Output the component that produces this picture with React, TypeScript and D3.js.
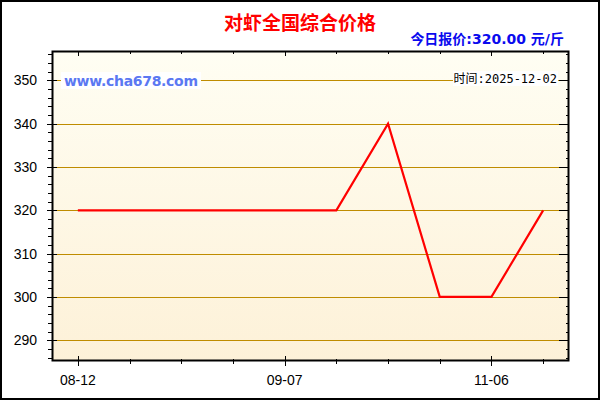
import React, { useEffect, useRef } from 'react';
import * as d3 from 'd3';

// Data
const dates = ['08-12', '08-19', '08-26', '09-01', '09-07', '09-15', '09-24', '10-16', '11-06', '12-02'];
const prices = [320, 320, 320, 320, 320, 320, 340, 300, 300, 320];
const yTicks = [290, 300, 310, 320, 330, 340, 350];
const xLabels = ['08-12', '09-07', '11-06'];

const title = '对虾全国综合价格';
const todayPrice = '今日报价:320.00 元/斤';
const siteLabel = 'www.cha678.com';
const timeLabel = '时间:2025-12-02';

const App = () => {
  const ref = useRef<SVGSVGElement | null>(null);

  useEffect(() => {
    const width = 600;
    const height = 400;
    const plot = { left: 52, right: 569, top: 51, bottom: 361 };

    const svg = d3.select(ref.current);
    svg.selectAll('*').remove();

    // Background gradient
    const defs = svg.append('defs');
    const grad = defs.append('linearGradient')
      .attr('id', 'bg')
      .attr('x1', 0).attr('y1', 0).attr('x2', 0).attr('y2', 1);
    grad.append('stop').attr('offset', '0%').attr('stop-color', '#fffef3');
    grad.append('stop').attr('offset', '100%').attr('stop-color', '#fdf1d8');

    svg.append('rect')
      .attr('width', width).attr('height', height)
      .attr('fill', '#fff');

    // Outer frame
    svg.append('rect')
      .attr('x', 1).attr('y', 1)
      .attr('width', width - 2).attr('height', height - 2)
      .attr('fill', 'none')
      .attr('stroke', '#000')
      .attr('stroke-width', 2);

    // Scales
    const x = d3.scalePoint<string>()
      .domain(dates)
      .range([plot.left, plot.right])
      .padding(0.5);

    const y = d3.scaleLinear()
      .domain([285.2, 356.8])
      .range([plot.bottom, plot.top]);

    // Plot area
    svg.append('rect')
      .attr('x', plot.left).attr('y', plot.top)
      .attr('width', plot.right - plot.left)
      .attr('height', plot.bottom - plot.top)
      .attr('fill', 'url(#bg)');

    // Gridlines
    svg.append('g')
      .selectAll('line')
      .data(yTicks)
      .enter()
      .append('line')
      .attr('x1', plot.left).attr('x2', plot.right)
      .attr('y1', d => Math.round(y(d)) + 0.5)
      .attr('y2', d => Math.round(y(d)) + 0.5)
      .attr('stroke', '#bf8c00')
      .attr('stroke-width', 1);

    // Minor y ticks every 2 units
    const minorY = d3.range(286, 357, 2).filter(v => !yTicks.includes(v));
    const axisG = svg.append('g').attr('stroke', '#000').attr('stroke-width', 1);

    minorY.forEach(v => {
      const yy = Math.round(y(v)) + 0.5;
      axisG.append('line').attr('x1', plot.left - 4).attr('x2', plot.left).attr('y1', yy).attr('y2', yy);
      axisG.append('line').attr('x1', plot.right - 3).attr('x2', plot.right).attr('y1', yy).attr('y2', yy);
    });
    yTicks.forEach(v => {
      const yy = Math.round(y(v)) + 0.5;
      axisG.append('line').attr('x1', plot.left - 5).attr('x2', plot.left + 5).attr('y1', yy).attr('y2', yy);
      axisG.append('line').attr('x1', plot.right - 10).attr('x2', plot.right).attr('y1', yy).attr('y2', yy);
    });

    // X ticks
    dates.forEach(d => {
      const xx = Math.round(x(d) as number) + 0.5;
      const major = xLabels.includes(d);
      axisG.append('line')
        .attr('x1', xx).attr('x2', xx)
        .attr('y1', major ? plot.bottom - 5 : plot.bottom - 2)
        .attr('y2', major ? plot.bottom + 5 : plot.bottom + 3);
      axisG.append('line')
        .attr('x1', xx).attr('x2', xx)
        .attr('y1', plot.top).attr('y2', plot.top + (major ? 5 : 3));
    });

    // Plot border
    svg.append('rect')
      .attr('x', plot.left + 0.5).attr('y', plot.top + 0.5)
      .attr('width', plot.right - plot.left - 1)
      .attr('height', plot.bottom - plot.top - 1)
      .attr('fill', 'none')
      .attr('stroke', '#000')
      .attr('stroke-width', 2);

    // Y labels
    svg.append('g')
      .selectAll('text')
      .data(yTicks)
      .enter()
      .append('text')
      .attr('x', 37)
      .attr('y', d => y(d) + 5)
      .attr('text-anchor', 'end')
      .attr('font-family', 'Liberation Sans, Arial, sans-serif')
      .attr('font-size', '14px')
      .attr('fill', '#000')
      .text(d => d);

    // X labels
    svg.append('g')
      .selectAll('text')
      .data(xLabels)
      .enter()
      .append('text')
      .attr('x', d => x(d) as number)
      .attr('y', 385)
      .attr('text-anchor', 'middle')
      .attr('font-family', 'Liberation Sans, Arial, sans-serif')
      .attr('font-size', '14px')
      .attr('fill', '#000')
      .text(d => d);

    // Price line
    const line = d3.line<number>()
      .x((d, i) => x(dates[i]) as number)
      .y(d => y(d));

    svg.append('path')
      .datum(prices)
      .attr('d', line)
      .attr('fill', 'none')
      .attr('stroke', '#ff0000')
      .attr('stroke-width', 2.2);

    // Title
    svg.append('text')
      .attr('x', 300)
      .attr('y', 30)
      .attr('text-anchor', 'middle')
      .attr('font-family', 'Noto Sans CJK SC, sans-serif')
      .attr('font-size', '19px')
      .attr('font-weight', 'bold')
      .attr('fill', '#ff0000')
      .text(title);

    svg.append('text')
      .attr('x', 564)
      .attr('y', 44)
      .attr('text-anchor', 'end')
      .attr('font-family', 'DejaVu Sans, Noto Sans CJK SC, sans-serif')
      .attr('font-size', '14px')
      .attr('font-weight', 'bold')
      .attr('fill', '#0a0aee')
      .text(todayPrice);

    // Watermark site label with white backing
    svg.append('rect')
      .attr('x', 61).attr('y', 72)
      .attr('width', 140).attr('height', 17)
      .attr('fill', '#fff');
    svg.append('text')
      .attr('x', 64)
      .attr('y', 86)
      .attr('font-family', 'DejaVu Sans, Verdana, sans-serif')
      .attr('font-size', '14px')
      .attr('font-weight', 'bold')
      .attr('fill', '#5b78f2')
      .attr('textLength', 134)
      .text(siteLabel);

    // Time label with white backing
    svg.append('rect')
      .attr('x', 453).attr('y', 71)
      .attr('width', 105).attr('height', 15)
      .attr('fill', '#fff');
    svg.append('text')
      .attr('x', 557)
      .attr('y', 83)
      .attr('text-anchor', 'end')
      .attr('font-family', 'DejaVu Sans Mono, Noto Sans CJK SC, monospace')
      .attr('font-size', '12px')
      .attr('fill', '#000')
      .text(timeLabel);
  }, []);

  return (
    <svg
      ref={ref}
      width={600}
      height={400}
      style={{ position: 'absolute', left: 0, top: 0, display: 'block' }}
    />
  );
};

export default App;
